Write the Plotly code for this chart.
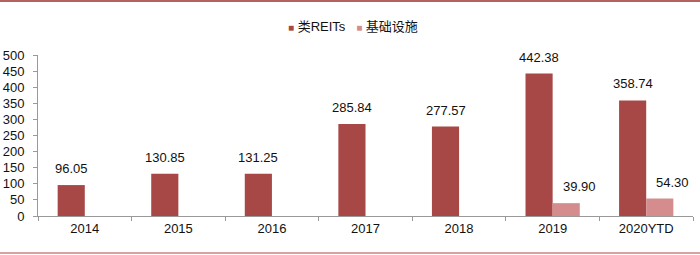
import plotly.graph_objects as go

categories = ["2014", "2015", "2016", "2017", "2018", "2019", "2020YTD"]
reits = [96.05, 130.85, 131.25, 285.84, 277.57, 442.38, 358.74]
infra = [None, None, None, None, None, 39.90, 54.30]
y_ticks = [0, 50, 100, 150, 200, 250, 300, 350, 400, 450, 500]
series_names = ["类REITs", "基础设施"]
colors = ["#A84846", "#D48C8D"]

W, H = 700, 255
L, R, T, B = 38, 7, 55, 39
pw, ph = W - L - R, H - T - B
bargap = 0.42
cat_w = pw / len(categories)
bar_w = cat_w * (1 - bargap) / 2

fig = go.Figure()
for name, vals, col in zip(series_names, [reits, infra], colors):
    fig.add_trace(go.Bar(x=categories, y=vals, name=name, marker_color=col,
                         marker_line=dict(color=col, width=0), showlegend=False))

# value labels (x given as category index on the category axis)
for vals, shift in [(reits, -bar_w / 2), (infra, bar_w / 2 + 13)]:
    for i, v in enumerate(vals):
        if v is None:
            continue
        fig.add_annotation(x=i, y=v, xref="x", yref="y", text=f"{v:.2f}", showarrow=False,
                           xshift=shift, yshift=7, yanchor="bottom",
                           font=dict(size=13, color="#111"))

def px_x(p):
    return (p - L) / pw

def px_y(p):
    return (H - B - p) / ph

# legend drawn as text
leg_text = (f"<span style='color:{colors[0]};font-size:10px'>■</span> {series_names[0]}"
            f"   <span style='color:{colors[1]};font-size:10px'>■</span> {series_names[1]}")
fig.add_annotation(xref="paper", yref="paper", x=px_x(353), y=px_y(27), xanchor="center",
                   yanchor="middle", showarrow=False, text=leg_text,
                   font=dict(size=13, color="#111"))

fig.add_shape(type="line", xref="paper", yref="paper",
              x0=px_x(0), x1=px_x(W), y0=px_y(1), y1=px_y(1),
              line=dict(color="#B4625E", width=2))
fig.add_shape(type="line", xref="paper", yref="paper",
              x0=px_x(0), x1=px_x(W), y0=px_y(253), y1=px_y(253),
              line=dict(color="#D9A3A3", width=2))

fig.update_layout(
    width=W, height=H,
    margin=dict(l=L, r=R, t=T, b=B),
    paper_bgcolor="white", plot_bgcolor="white",
    barmode="group", bargap=bargap, bargroupgap=0,
    font=dict(family="Liberation Sans, Arial, Noto Sans CJK SC", size=13, color="#111"),
    showlegend=False,
)
fig.update_xaxes(
    type="category", categoryorder="array", categoryarray=categories,
    range=[-0.5, len(categories) - 0.5], automargin=False,
    showline=True, linecolor="#999", linewidth=1, ticks="outside", ticklen=4,
    tickcolor="#999", tickson="boundaries", showgrid=False,
    tickfont=dict(size=13), tickangle=0,
)
fig.update_yaxes(
    range=[0, 500], tickvals=y_ticks, showline=True, linecolor="#999", linewidth=1,
    ticks="outside", ticklen=4, tickcolor="#999", showgrid=False, zeroline=False,
    tickfont=dict(size=13), ticklabelstandoff=6, automargin=False,
)

fig.write_html("out.html")
